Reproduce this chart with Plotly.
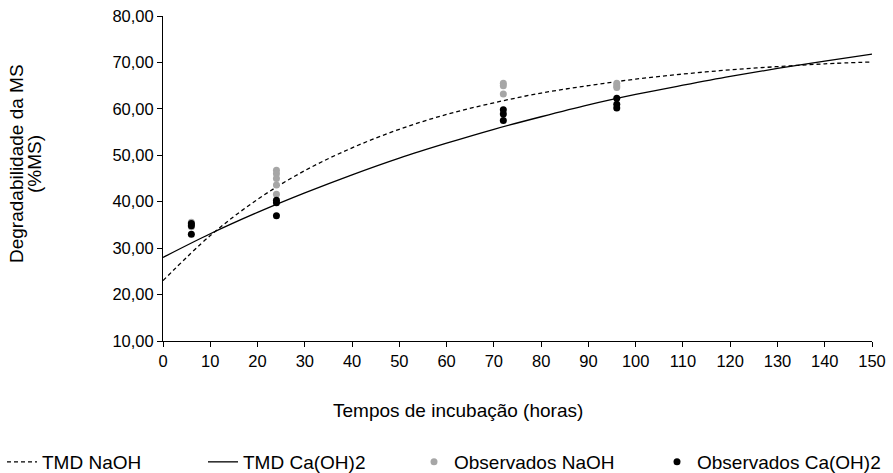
import plotly.graph_objects as go

# Fitted curves
curve_t = [0, 10, 20, 30, 40, 50, 60, 70, 80, 90, 100, 110, 120, 130, 140, 150]
tmd_naoh = [23.0, 32.7, 40.5, 46.7, 51.6, 55.6, 58.8, 61.3, 63.4, 65.0, 66.4, 67.5, 68.4, 69.1, 69.7, 70.1]
tmd_caoh = [28.0, 33.1, 37.7, 41.9, 45.8, 49.4, 52.6, 55.6, 58.3, 60.85, 63.1, 65.1, 67.0, 68.7, 70.3, 71.8]

# Observed points
obs_naoh_t = [6, 6, 6, 24, 24, 24, 24, 24, 72, 72, 72, 96, 96, 96]
obs_naoh_y = [35.6, 35.1, 34.6, 46.8, 46.0, 45.0, 43.6, 41.6, 65.5, 65.0, 63.2, 65.5, 65.0, 64.6]
obs_caoh_t = [6, 6, 6, 24, 24, 24, 72, 72, 72, 96, 96, 96]
obs_caoh_y = [35.3, 34.8, 33.0, 40.3, 39.8, 37.0, 59.8, 58.9, 57.5, 62.3, 61.0, 60.2]

x_ticks = list(range(0, 151, 10))
y_ticks = list(range(10, 81, 10))

FONT = "Liberation Sans, Arial, sans-serif"
TICK_SIZE = 16.5
TEXT_SIZE = 19

fig = go.Figure()
fig.add_trace(go.Scatter(x=curve_t, y=tmd_naoh, mode="lines", name="TMD NaOH",
                         line=dict(color="black", width=1.3, dash="4px,3px", shape="spline"),
                         legend="legend"))
fig.add_trace(go.Scatter(x=curve_t, y=tmd_caoh, mode="lines", name="TMD Ca(OH)2",
                         line=dict(color="black", width=1.3, shape="spline"),
                         legend="legend2"))
fig.add_trace(go.Scatter(x=obs_naoh_t, y=obs_naoh_y, mode="markers", name="Observados NaOH",
                         marker=dict(color="#a6a6a6", size=7),
                         legend="legend3"))
fig.add_trace(go.Scatter(x=obs_caoh_t, y=obs_caoh_y, mode="markers", name="Observados Ca(OH)2",
                         marker=dict(color="black", size=7),
                         legend="legend4"))

L, R, T, B = 163, 21, 16, 132
W, H = 893, 473
pw = W - L - R
ph = H - T - B

def lx(px):
    return (px - L) / pw

def ly(py):
    return (H - B - py) / ph

leg_common = dict(orientation="h", yanchor="middle", y=ly(462), xanchor="left",
                  font=dict(family=FONT, size=TEXT_SIZE, color="black"),
                  bgcolor="rgba(0,0,0,0)", borderwidth=0)

fig.update_layout(
    width=W, height=H,
    margin=dict(l=L, r=R, t=T, b=B, autoexpand=False),
    paper_bgcolor="white", plot_bgcolor="white",
    separators=",.",
    showlegend=True,
    font=dict(family=FONT, size=TICK_SIZE, color="black"),
    legend=dict(x=lx(2), **leg_common),
    legend2=dict(x=lx(203), **leg_common),
    legend3=dict(x=lx(414), **leg_common),
    legend4=dict(x=lx(657), **leg_common),
    xaxis=dict(range=[0, 150], tickvals=x_ticks, showgrid=False, zeroline=False,
               showline=True, linecolor="black", linewidth=1,
               ticks="outside", ticklen=5, tickcolor="black",
               tickfont=dict(family=FONT, size=TICK_SIZE, color="black")),
    yaxis=dict(range=[10, 80], tickvals=y_ticks, tickformat=".2f", showgrid=False, zeroline=False,
               showline=True, linecolor="black", linewidth=1,
               ticks="outside", ticklen=5, tickcolor="black",
               tickfont=dict(family=FONT, size=TICK_SIZE, color="black")),
    annotations=[
        dict(text="Tempos de incubação (horas)", xref="paper", yref="paper",
             x=lx(458), y=ly(410), xanchor="center", yanchor="middle", showarrow=False,
             font=dict(family=FONT, size=TEXT_SIZE, color="black")),
        dict(text="Degradabilidade da MS", xref="paper", yref="paper",
             x=lx(16), y=ly(164), xanchor="center", yanchor="middle", showarrow=False,
             textangle=-90,
             font=dict(family=FONT, size=TEXT_SIZE, color="black")),
        dict(text="(%MS)", xref="paper", yref="paper",
             x=lx(34), y=ly(164), xanchor="center", yanchor="middle", showarrow=False,
             textangle=-90,
             font=dict(family=FONT, size=TEXT_SIZE, color="black")),
    ],
)

fig.write_html("out.html", config={"displayModeBar": False},
               post_script="document.body.style.margin='0';document.body.style.overflow='hidden';")
